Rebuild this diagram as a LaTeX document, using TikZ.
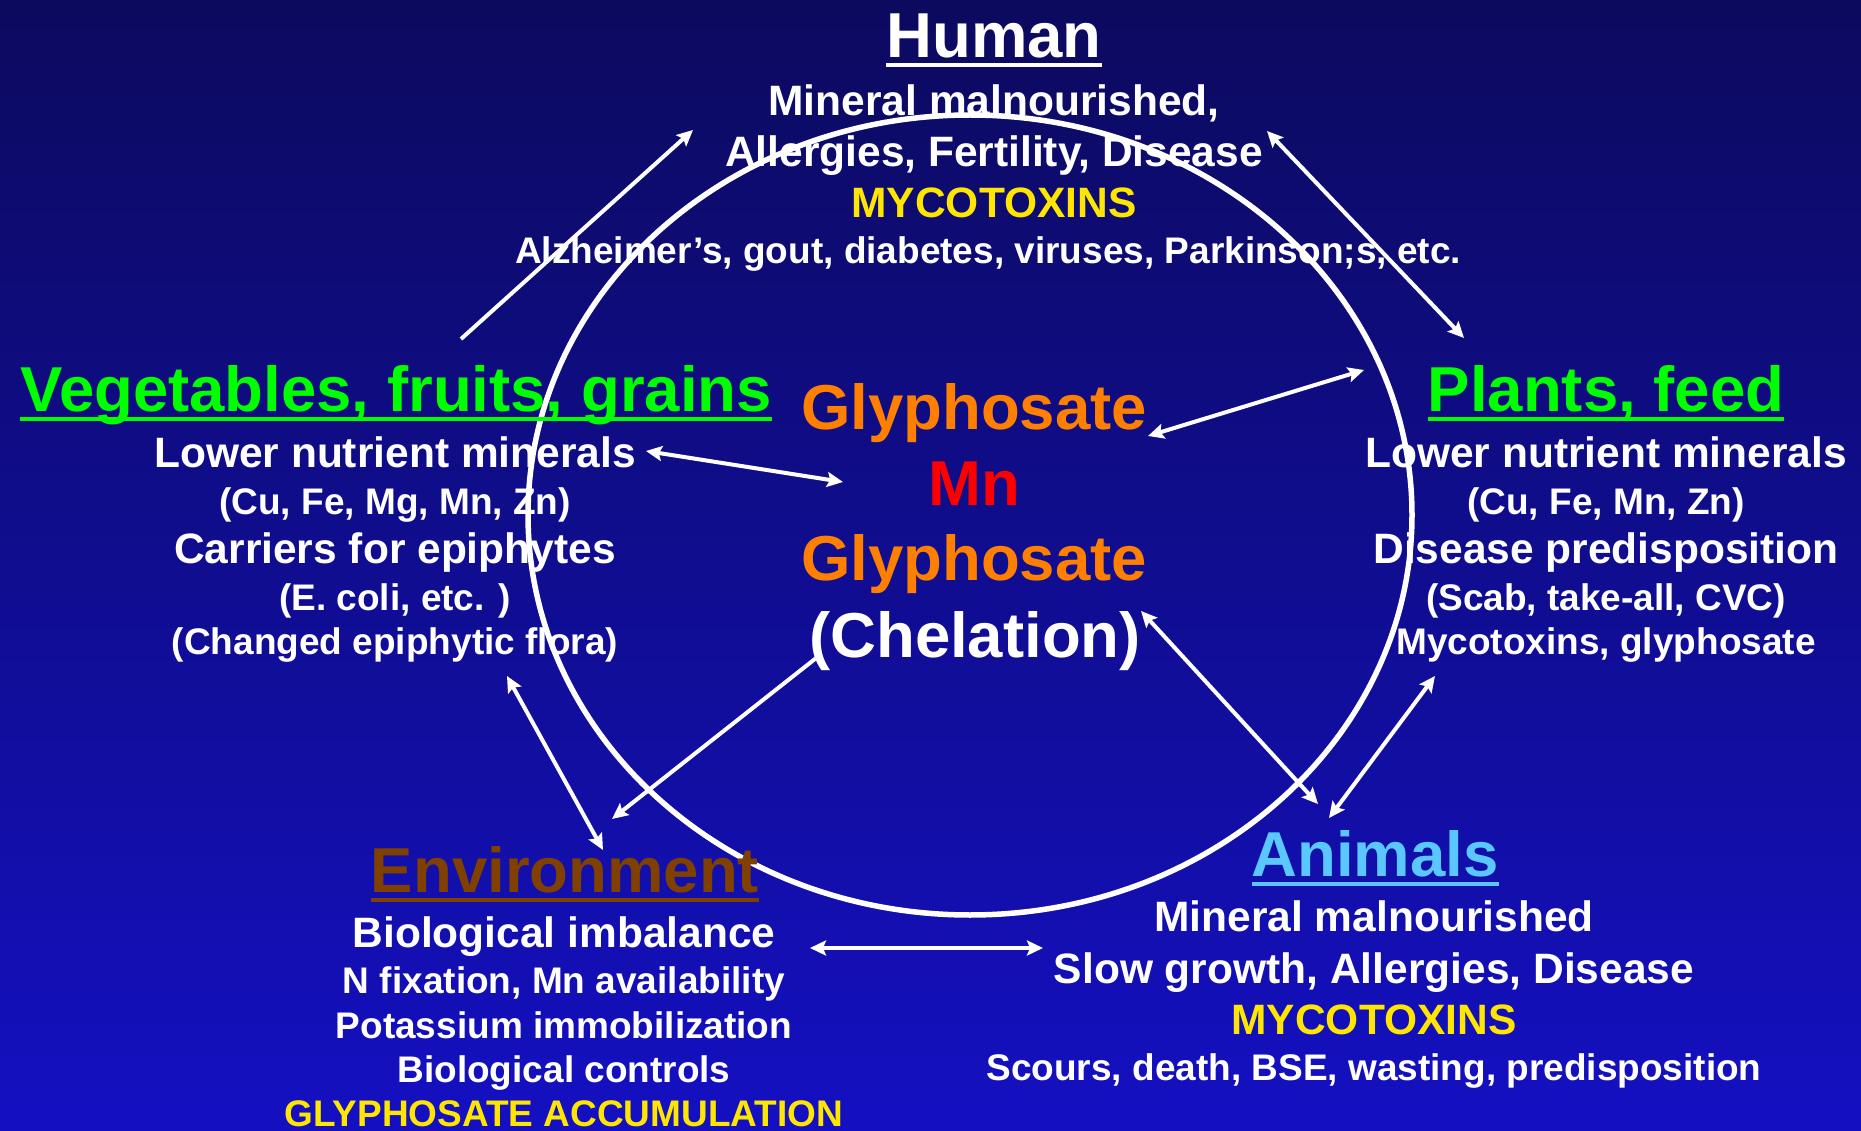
\documentclass[tikz,border=0pt]{standalone}
\usepackage{fontspec}
\setmainfont{Liberation Sans}
\usetikzlibrary{arrows.meta}
\definecolor{bgtop}{RGB}{12,10,94}
\definecolor{bgbot}{RGB}{20,16,194}
\definecolor{vgreen}{RGB}{0,255,0}
\definecolor{gorange}{RGB}{255,128,0}
\definecolor{myellow}{RGB}{255,230,0}
\definecolor{ebrown}{RGB}{128,64,0}
\definecolor{ablue}{RGB}{90,200,255}
\tikzset{
  txt/.style={anchor=base, inner sep=0pt, outer sep=0pt, text=white, font=\bfseries\fontsize{42.5}{48}\selectfont},
  sml/.style={txt, font=\bfseries\fontsize{37}{42}\selectfont},
  ttl/.style={txt, font=\bfseries\fontsize{63.5}{70}\selectfont},
  ul/.style={line width=4pt},
  tip/.tip={Stealth[length=16pt,width=15pt,inset=3pt]},
  conn/.style={white, line width=4pt, -tip},
  dconn/.style={white, line width=4pt, tip-tip},
}
\begin{document}
\begin{tikzpicture}[x=1pt,y=-1pt]
\useasboundingbox (0,0) rectangle (1861,1131);
\shade[top color=bgtop, bottom color=bgbot] (0,0) rectangle (1861,1131);

% ring
\draw[white, line width=5.5pt] (970,515) ellipse [x radius=442pt, y radius=400pt];

% Human
\node[ttl] (hum) at (994,58) {Human};
\node[txt] (h1) at (994,116) {Mineral malnourished,};
\node[txt] (h2) at (994,167) {Allergies, Fertility, Disease};
\node[txt, text=myellow] (h3) at (994,218) {MYCOTOXINS};
\node[sml] (h4) at (988,264) {Alzheimer’s, gout, diabetes, viruses, Parkinson;s, etc.};
\draw[ul, white] ([yshift=-7.5pt]hum.base west) -- ([yshift=-7.5pt]hum.base east);

% Vegetables
\node[ttl, text=vgreen] (veg) at (396,412) {Vegetables, fruits, grains};
\draw[ul, vgreen] ([yshift=-7.5pt]veg.base west) -- ([yshift=-7.5pt]veg.base east);
\node[txt] (v1) at (395,467) {Lower nutrient minerals};
\node[sml] (v2) at (395,514) {(Cu, Fe, Mg, Mn, Zn)};
\node[txt] (v3) at (395,563) {Carriers for epiphytes};
\node[sml] (v4) at (395,610) {(E. coli, etc. )};
\node[sml] (v5) at (395,654) {(Changed epiphytic flora)};

% Centre
\node[ttl, text=gorange] (g1) at (974,429) {Glyphosate};
\node[ttl, text=red] (mn) at (974,505) {Mn};
\node[ttl, text=gorange] (g2) at (974,580) {Glyphosate};
\node[ttl] (ch) at (975,657) {(Chelation)};

% Plants
\node[ttl, text=vgreen] (pl) at (1606,412) {Plants, feed};
\draw[ul, vgreen] ([yshift=-7.5pt]pl.base west) -- ([yshift=-7.5pt]pl.base east);
\node[txt] (p1) at (1606,467) {Lower nutrient minerals};
\node[sml] (p2) at (1606,514) {(Cu, Fe, Mn, Zn)};
\node[txt] (p3) at (1606,563) {Disease predisposition};
\node[sml] (p4) at (1606,610) {(Scab, take-all, CVC)};
\node[sml] (p5) at (1606,654) {Mycotoxins, glyphosate};

% Environment
\node[ttl, text=ebrown] (env) at (565,892) {Environment};
\draw[ul, ebrown] ([yshift=-7.5pt]env.base west) -- ([yshift=-7.5pt]env.base east);
\node[txt] (e1) at (564,947) {Biological imbalance};
\node[sml] (e2) at (564,993) {N fixation, Mn availability};
\node[sml] (e3) at (564,1038) {Potassium immobilization};
\node[sml] (e4) at (564,1082) {Biological controls};
\node[sml, text=myellow] (e5) at (564,1126) {GLYPHOSATE ACCUMULATION};

% Animals
\node[ttl, text=ablue] (an) at (1375,876) {Animals};
\draw[ul, ablue] ([yshift=-7.5pt]an.base west) -- ([yshift=-7.5pt]an.base east);
\node[txt] (a1) at (1374,931) {Mineral malnourished};
\node[txt] (a2) at (1374,983) {Slow growth, Allergies, Disease};
\node[txt, text=myellow] (a3) at (1374,1034) {MYCOTOXINS};
\node[sml] (a4) at (1374,1080) {Scours, death, BSE, wasting, predisposition};

% connector ends
\coordinate (vegH) at (461,339);  \coordinate (humV) at (693,130);
\coordinate (humP) at (1267,131); \coordinate (plH) at (1464,338);
\coordinate (gP) at (1148,436);   \coordinate (plG) at (1364,370);
\coordinate (vegM) at (646,451);  \coordinate (mnV) at (843,482);
\coordinate (vegE) at (507,676);  \coordinate (envV) at (603,850);
\coordinate (chE) at (820,655);   \coordinate (envC) at (612,819);
\coordinate (chA) at (1141,611);  \coordinate (anC) at (1318,804);
\coordinate (plA) at (1435,676);  \coordinate (anP) at (1329,818);
\coordinate (envA) at (810,948);  \coordinate (anE) at (1043,948);

\draw[conn] (vegH) -- (humV);
\draw[dconn] (humP) -- (plH);
\draw[dconn] (gP) -- (plG);
\draw[dconn] (vegM) -- (mnV);
\draw[dconn] (vegE) -- (envV);
\draw[conn] (chE) -- (envC);
\draw[dconn] (chA) -- (anC);
\draw[dconn] (plA) -- (anP);
\draw[dconn] (envA) -- (anE);
\end{tikzpicture}
\end{document}
